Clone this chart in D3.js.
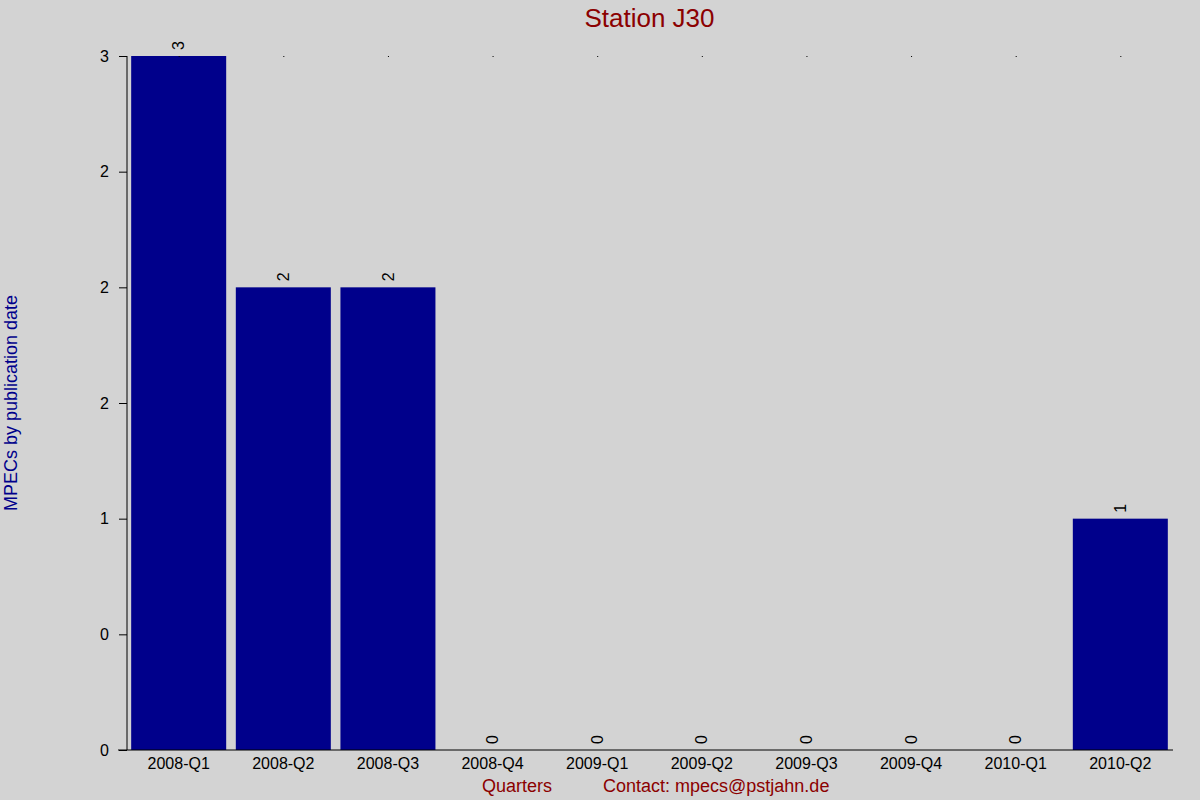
<!DOCTYPE html>
<html>
<head>
    <meta charset="utf-8">
    <style>
        html, body {
            margin: 0;
            padding: 0;
            background-color: #d3d3d3;
        }
        text {
            font-family: "Liberation Sans", Arial, sans-serif;
        }
    </style>
</head>
<body>
<div class="board"></div>
<script src="https://d3js.org/d3.v7.min.js"></script>
<script>
    // chart data
    const quarters = ["2008-Q1", "2008-Q2", "2008-Q3", "2008-Q4", "2009-Q1",
        "2009-Q2", "2009-Q3", "2009-Q4", "2010-Q1", "2010-Q2"]
    const mpecCounts = [3, 2, 2, 0, 0, 0, 0, 0, 0, 1]
    const yTickValues = [0, 0.5, 1, 1.5, 2, 2.5, 3]
    const yTickLabels = ["0", "0", "1", "2", "2", "2", "3"]

    const WIDTH = 1200, HEIGHT = 800
    const margin = { top: 56, right: 28, bottom: 50, left: 127 }

    const BAR_COLOR = "#00008b"
    const TITLE_COLOR = "#8b0000"
    const FONT_SIZE = 16

    let svg = d3.select(".board")
        .append("svg")
        .attr("width", WIDTH)
        .attr("height", HEIGHT)

    svg.append("rect")
        .attr("width", WIDTH)
        .attr("height", HEIGHT)
        .attr("fill", "#d3d3d3")

    let xScale = d3.scaleBand()
        .domain(quarters)
        .range([margin.left, WIDTH - margin.right])
        .paddingInner(0.092)
        .paddingOuter(0.04)

    let yScale = d3.scaleLinear()
        .domain([0, 3])
        .range([HEIGHT - margin.bottom, margin.top])

    // bars
    svg.append("g")
        .selectAll("rect")
        .data(mpecCounts)
        .enter()
        .append("rect")
        .attr("x", (d, i) => xScale(quarters[i]))
        .attr("y", d => yScale(d))
        .attr("width", xScale.bandwidth())
        .attr("height", d => yScale(0) - yScale(d))
        .attr("fill", BAR_COLOR)

    // little marks along the top
    svg.append("g")
        .selectAll("rect")
        .data(quarters)
        .enter()
        .append("rect")
        .attr("x", d => xScale(d) + xScale.bandwidth() / 2)
        .attr("y", yScale(3))
        .attr("width", 1)
        .attr("height", 1)
        .attr("fill", "black")

    // value labels
    svg.append("g")
        .selectAll("text")
        .data(mpecCounts)
        .enter()
        .append("text")
        .attr("transform", (d, i) => "translate(" + (xScale(quarters[i]) + xScale.bandwidth() / 2) + "," + (yScale(d) - 6) + ") rotate(-90)")
        .attr("dy", "0.35em")
        .attr("font-size", FONT_SIZE)
        .attr("fill", "black")
        .text(d => d)

    // y axis
    let yAxis = d3.axisLeft(yScale)
        .tickValues(yTickValues)
        .tickFormat((d, i) => yTickLabels[i])
        .tickSize(8)
        .tickPadding(10)

    let yG = svg.append("g")
        .attr("transform", "translate(" + margin.left + ",0)")
        .call(yAxis)
    yG.select(".domain").attr("d", "M0," + yScale(3) + "V" + yScale(0))
    yG.selectAll("text")
        .attr("font-size", FONT_SIZE)
        .attr("font-family", "Liberation Sans, Arial, sans-serif")
        .attr("fill", "black")

    // x axis
    let xAxis = d3.axisBottom(xScale)
        .tickSize(0)
        .tickPadding(8)

    let xG = svg.append("g")
        .attr("transform", "translate(0," + yScale(0) + ")")
        .call(xAxis)
    xG.select(".domain").attr("d", "M" + (margin.left - 9) + ",0H" + (WIDTH - margin.right + 1))
    xG.selectAll("text")
        .attr("font-size", FONT_SIZE)
        .attr("font-family", "Liberation Sans, Arial, sans-serif")
        .attr("fill", "black")

    // titles
    svg.append("text")
        .attr("x", (margin.left + WIDTH - margin.right) / 2)
        .attr("y", 27)
        .attr("text-anchor", "middle")
        .attr("font-size", 26)
        .attr("fill", TITLE_COLOR)
        .text("Station J30")

    svg.append("text")
        .attr("x", 517)
        .attr("y", 792)
        .attr("text-anchor", "middle")
        .attr("font-size", 18)
        .attr("fill", TITLE_COLOR)
        .text("Quarters")

    svg.append("text")
        .attr("x", 603)
        .attr("y", 792)
        .attr("font-size", 18)
        .attr("fill", TITLE_COLOR)
        .text("Contact: mpecs@pstjahn.de")

    svg.append("text")
        .attr("transform", "translate(17,403) rotate(-90)")
        .attr("text-anchor", "middle")
        .attr("font-size", 18)
        .attr("fill", BAR_COLOR)
        .text("MPECs by publication date")
</script>
</body>
</html>
